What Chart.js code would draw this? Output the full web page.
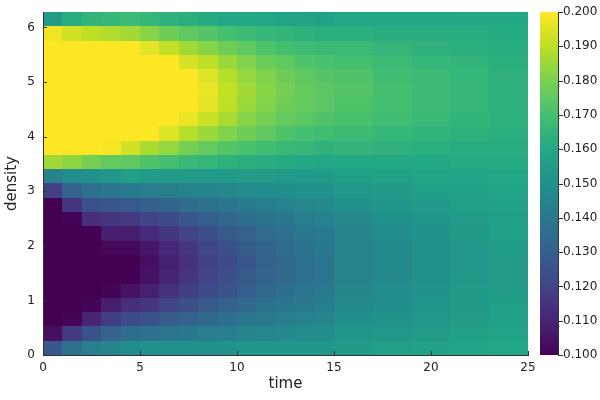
<!doctype html>
<html>
<head>
<meta charset="utf-8">
<title>density vs time</title>
<script src="https://cdn.jsdelivr.net/npm/chart.js@4"></script>
<style>
  html, body { margin: 0; padding: 0; background: #fff; }
  #heat { display: block; }
</style>
</head>
<body>
<canvas id="heat" width="600" height="400"></canvas>
<script>
// cell edges along each axis (data units)
const timeEdges = [0, 1, 2, 3, 4, 5, 6, 7, 8, 9, 10, 11, 12, 13, 14, 15, 17, 19, 21, 23, 25];
const densityEdges = [0, 0.262, 0.524, 0.785, 1.047, 1.309, 1.571, 1.833, 2.094, 2.356, 2.618, 2.880,
  3.142, 3.403, 3.665, 3.927, 4.189, 4.451, 4.712, 4.974, 5.236, 5.498, 5.760, 6.021, 6.283];

const xTicks = [0, 5, 10, 15, 20, 25];
const yTicks = [0, 1, 2, 3, 4, 5, 6];
const cbTicks = [0.10, 0.11, 0.12, 0.13, 0.14, 0.15, 0.16, 0.17, 0.18, 0.19, 0.20];

// one column per time slice, values listed bottom (density 0) to top (2π)
const c0  = [0.127,0.104,0.100,0.100,0.100,0.100,0.100,0.100,0.100,0.100,0.100,0.119,0.144,0.186,0.200,0.200,0.200,0.200,0.200,0.200,0.200,0.200,0.198,0.155];
const c1  = [0.137,0.117,0.101,0.100,0.100,0.100,0.100,0.100,0.100,0.101,0.115,0.131,0.148,0.183,0.200,0.200,0.200,0.200,0.200,0.200,0.200,0.200,0.193,0.162];
const c2  = [0.142,0.125,0.110,0.101,0.100,0.100,0.100,0.100,0.100,0.113,0.125,0.137,0.150,0.179,0.200,0.200,0.200,0.200,0.200,0.200,0.200,0.200,0.190,0.165];
const c3  = [0.145,0.131,0.118,0.108,0.101,0.100,0.100,0.102,0.108,0.116,0.127,0.139,0.152,0.176,0.199,0.200,0.200,0.200,0.200,0.200,0.200,0.200,0.188,0.166];
const c4  = [0.149,0.136,0.123,0.113,0.105,0.100,0.100,0.102,0.108,0.117,0.128,0.141,0.156,0.175,0.193,0.200,0.200,0.200,0.200,0.200,0.200,0.200,0.186,0.168];
const c5  = [0.150,0.137,0.126,0.116,0.109,0.105,0.104,0.106,0.112,0.120,0.130,0.142,0.155,0.172,0.187,0.200,0.200,0.200,0.200,0.200,0.200,0.196,0.182,0.166];
const c6  = [0.150,0.139,0.129,0.120,0.114,0.110,0.109,0.111,0.116,0.123,0.132,0.143,0.155,0.170,0.184,0.195,0.200,0.200,0.200,0.200,0.200,0.191,0.178,0.164];
const c7  = [0.150,0.140,0.131,0.124,0.118,0.115,0.114,0.116,0.120,0.127,0.135,0.144,0.155,0.167,0.179,0.189,0.197,0.200,0.200,0.200,0.194,0.186,0.175,0.163];
const c8  = [0.150,0.142,0.134,0.128,0.123,0.120,0.119,0.121,0.124,0.130,0.137,0.145,0.154,0.166,0.176,0.185,0.192,0.196,0.197,0.195,0.190,0.182,0.173,0.161];
const c9  = [0.151,0.143,0.136,0.131,0.126,0.124,0.123,0.124,0.128,0.133,0.139,0.146,0.154,0.164,0.173,0.181,0.187,0.190,0.191,0.189,0.185,0.178,0.170,0.160];
const c10 = [0.152,0.145,0.139,0.134,0.130,0.128,0.127,0.128,0.131,0.136,0.141,0.148,0.155,0.163,0.171,0.178,0.182,0.185,0.186,0.184,0.181,0.175,0.168,0.160];
const c11 = [0.152,0.146,0.141,0.137,0.133,0.132,0.131,0.132,0.135,0.138,0.143,0.148,0.155,0.162,0.169,0.175,0.179,0.181,0.182,0.181,0.177,0.172,0.166,0.159];
const c12 = [0.152,0.147,0.143,0.139,0.136,0.134,0.134,0.135,0.137,0.140,0.144,0.149,0.154,0.161,0.167,0.172,0.176,0.178,0.179,0.178,0.175,0.170,0.165,0.158];
const c13 = [0.152,0.148,0.144,0.141,0.139,0.137,0.137,0.138,0.140,0.142,0.146,0.150,0.154,0.160,0.166,0.170,0.174,0.176,0.176,0.175,0.172,0.168,0.164,0.158];
const c14 = [0.152,0.149,0.145,0.143,0.141,0.139,0.139,0.140,0.141,0.144,0.147,0.150,0.154,0.159,0.164,0.169,0.172,0.174,0.174,0.173,0.171,0.167,0.163,0.157];
const c15 = [0.154,0.152,0.149,0.147,0.145,0.144,0.144,0.144,0.145,0.147,0.150,0.153,0.156,0.160,0.165,0.168,0.171,0.172,0.173,0.172,0.170,0.167,0.163,0.159];
const c16 = [0.156,0.153,0.151,0.149,0.148,0.147,0.147,0.147,0.148,0.150,0.152,0.154,0.157,0.160,0.164,0.166,0.169,0.170,0.170,0.169,0.168,0.165,0.162,0.159];
const c17 = [0.157,0.155,0.153,0.152,0.151,0.150,0.150,0.150,0.151,0.152,0.154,0.156,0.158,0.160,0.163,0.165,0.167,0.168,0.168,0.168,0.166,0.164,0.162,0.159];
const c18 = [0.158,0.157,0.155,0.154,0.154,0.153,0.153,0.153,0.154,0.155,0.156,0.157,0.158,0.161,0.162,0.164,0.165,0.166,0.166,0.166,0.165,0.163,0.162,0.160];
const c19 = [0.159,0.158,0.157,0.156,0.155,0.155,0.155,0.155,0.156,0.156,0.157,0.158,0.159,0.161,0.162,0.163,0.164,0.164,0.164,0.164,0.163,0.162,0.161,0.160];
const columns = [c0, c1, c2, c3, c4, c5, c6, c7, c8, c9, c10, c11, c12, c13, c14, c15, c16, c17, c18, c19];

const clim = [0.1, 0.2];
const viridis = ['#440154', '#482475', '#414487', '#355f8d', '#2a788e', '#21918c',
  '#22a884', '#44bf70', '#7ad151', '#bddf26', '#fde725'];

const FONT = 'DejaVu Sans, sans-serif';
const INK = '#222';

function hexRgb(h) {
  return [parseInt(h.slice(1, 3), 16), parseInt(h.slice(3, 5), 16), parseInt(h.slice(5, 7), 16)];
}
const viridisRgb = viridis.map(hexRgb);

// colour lookup in the colormap, clamped to the colour limits
function colorFor(v) {
  let p = (v - clim[0]) / (clim[1] - clim[0]);
  p = Math.max(0, Math.min(1, p)) * (viridisRgb.length - 1);
  const i = Math.min(Math.floor(p), viridisRgb.length - 2);
  const f = p - i;
  const a = viridisRgb[i], b = viridisRgb[i + 1];
  const c = a.map((k, n) => Math.round(k + (b[n] - k) * f));
  return `rgb(${c[0]},${c[1]},${c[2]})`;
}

const heatmapPlugin = {
  id: 'heatmap',
  beforeDraw(chart) {
    const { ctx, scales: { x, y } } = chart;
    ctx.save();
    columns.forEach((col, i) => {
      const x0 = Math.round(x.getPixelForValue(timeEdges[i]));
      const x1 = Math.round(x.getPixelForValue(timeEdges[i + 1]));
      col.forEach((v, j) => {
        const y0 = Math.round(y.getPixelForValue(densityEdges[j]));
        const y1 = Math.round(y.getPixelForValue(densityEdges[j + 1]));
        ctx.fillStyle = colorFor(v);
        ctx.fillRect(x0, y1, x1 - x0, y0 - y1);
      });
    });
    ctx.restore();
  },
  afterDraw(chart) {
    const { ctx, chartArea, scales: { x, y, cb } } = chart;
    ctx.save();
    // colour bar
    const top = cb.getPixelForValue(clim[1]);
    const bottom = cb.getPixelForValue(clim[0]);
    const barLeft = cb.left + 12, barRight = cb.left + 30;
    const grad = ctx.createLinearGradient(0, bottom, 0, top);
    viridis.forEach((c, k) => grad.addColorStop(k / (viridis.length - 1), c));
    ctx.fillStyle = grad;
    ctx.fillRect(barLeft, top, barRight - barLeft, bottom - top);
    ctx.strokeStyle = '#333';
    ctx.lineWidth = 1;
    ctx.beginPath();
    ctx.moveTo(barRight + 0.5, top);
    ctx.lineTo(barRight + 0.5, bottom);
    cbTicks.forEach(v => {
      const py = Math.round(cb.getPixelForValue(v)) + 0.5;
      ctx.moveTo(barRight, py);
      ctx.lineTo(barRight + 5, py);
    });
    // small inward ticks on the heatmap frame
    xTicks.forEach(v => {
      const px = Math.round(x.getPixelForValue(v)) + 0.5;
      ctx.moveTo(px, chartArea.bottom);
      ctx.lineTo(px, chartArea.bottom - 4);
    });
    yTicks.forEach(v => {
      const py = Math.round(y.getPixelForValue(v)) + 0.5;
      ctx.moveTo(chartArea.left, py);
      ctx.lineTo(chartArea.left + 4, py);
    });
    ctx.stroke();
    ctx.restore();
  }
};

const tickFont = { family: FONT, size: 12 };
// invisible tick marks are used as spacing between the axis and its labels
const spacerGrid = len => ({ display: true, drawOnChartArea: false, drawTicks: true, tickLength: len, color: 'rgba(0,0,0,0)' });

new Chart(document.getElementById('heat'), {
  type: 'scatter',
  data: { datasets: [] },
  plugins: [heatmapPlugin],
  options: {
    responsive: false,
    animation: false,
    devicePixelRatio: 1,
    layout: { padding: { top: 12, left: 0, right: 0, bottom: 0 } },
    plugins: { legend: { display: false }, tooltip: { enabled: false } },
    scales: {
      x: {
        type: 'linear', min: 0, max: 25,
        afterBuildTicks: s => { s.ticks = xTicks.map(v => ({ value: v })); },
        afterFit: s => { s.height = 45; },
        grid: spacerGrid(6),
        border: { display: true, color: '#333', width: 1 },
        ticks: { padding: 0, font: tickFont, color: INK, maxRotation: 0 },
        title: { display: true, text: 'time', color: INK, font: { family: FONT, size: 15 }, padding: { top: 0, bottom: 7 } }
      },
      y: {
        type: 'linear', min: 0, max: 6.2832,
        afterBuildTicks: s => { s.ticks = yTicks.map(v => ({ value: v })); },
        afterFit: s => { s.width = 43; },
        grid: spacerGrid(8),
        border: { display: true, color: '#333', width: 1 },
        ticks: { padding: 0, font: tickFont, color: INK },
        title: { display: true, text: 'density', color: INK, font: { family: FONT, size: 15 }, padding: { top: 3, bottom: 0 } }
      },
      cb: {
        type: 'linear', position: 'right', min: clim[0], max: clim[1],
        afterBuildTicks: s => { s.ticks = cbTicks.map(v => ({ value: v })); },
        afterFit: s => { s.width = 72; },
        grid: spacerGrid(35),
        border: { display: false },
        ticks: { padding: 0, font: tickFont, color: INK, callback: v => v.toFixed(3) }
      }
    }
  }
});
</script>
</body>
</html>
